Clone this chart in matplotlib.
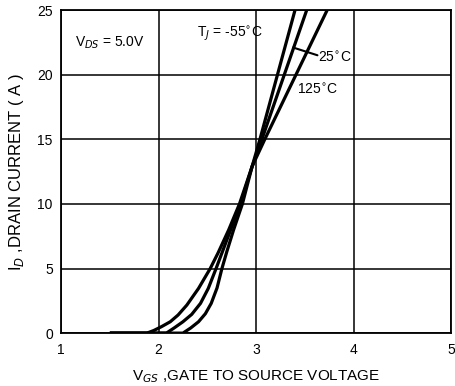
import matplotlib
matplotlib.use("Agg")
import matplotlib.pyplot as plt

plt.rcParams['font.family'] = ['Liberation Sans', 'DejaVu Sans']

# transfer characteristics
vgs_m55 = [1.5, 1.88, 1.95, 2.03, 2.12, 2.20, 2.29, 2.41, 2.53, 2.61, 2.72, 2.83, 2.96, 3.04, 3.22, 3.40]
id_m55 = [0, 0, 0.2, 0.5, 0.88, 1.4, 2.17, 3.46, 5, 6.2, 8.0, 10, 12.9, 15, 20, 25]

vgs_25 = [1.5, 2.08, 2.16, 2.25, 2.34, 2.43, 2.51, 2.59, 2.65, 2.74, 2.84, 2.96, 3.06, 3.29, 3.52]
id_25 = [0, 0, 0.4, 0.88, 1.45, 2.3, 3.46, 5, 6.2, 8.0, 10, 12.9, 15, 20, 25]

vgs_125 = [1.5, 2.25, 2.33, 2.41, 2.48, 2.54, 2.60, 2.65, 2.70, 2.77, 2.86, 2.96, 3.09, 3.41, 3.73]
id_125 = [0, 0, 0.4, 0.88, 1.5, 2.3, 3.5, 5, 6.3, 8.0, 10, 12.9, 15, 20, 25]

x_ticks = [1, 2, 3, 4, 5]
y_ticks = [0, 5, 10, 15, 20, 25]

fig = plt.figure(figsize=(4.56, 3.86), dpi=100)
ax = fig.add_axes([0.134, 0.137, 0.855, 0.837])

for v, i in [(vgs_m55, id_m55), (vgs_25, id_25), (vgs_125, id_125)]:
    ax.plot(v, i, color='black', lw=2.3, solid_capstyle='butt', solid_joinstyle='round')

ax.set_xlim(1, 5)
ax.set_ylim(0, 25)
ax.set_xticks(x_ticks)
ax.set_yticks(y_ticks)
ax.grid(True, color='black', lw=1.1)
ax.tick_params(length=0, labelsize=10)
ax.tick_params(axis='x', pad=7)
ax.tick_params(axis='y', pad=6)
for s in ax.spines.values():
    s.set_linewidth(1.3)

ax.text(1.14, 22.5, r'V$_{DS}$ = 5.0V', fontsize=10, va='center')
ax.text(2.39, 23.2, r'T$_J$ = -55$^{\circ}$C', fontsize=10, va='center')
ax.text(3.64, 21.3, r'25$^{\circ}$C', fontsize=10, va='center')
ax.annotate('', xy=(3.38, 22.1), xytext=(3.63, 21.5),
            arrowprops=dict(arrowstyle='-', color='black', lw=1.5,
                            shrinkA=0, shrinkB=0))
ax.text(3.42, 18.8, r'125$^{\circ}$C', fontsize=10, va='center')

ax.set_xlabel(r'V$_{GS}$ ,GATE TO SOURCE VOLTAGE', fontsize=11, labelpad=8)
ax.set_ylabel(r'I$_D$ ,DRAIN CURRENT ( A )', fontsize=12, labelpad=8)

fig.savefig('out.png', dpi=100)
